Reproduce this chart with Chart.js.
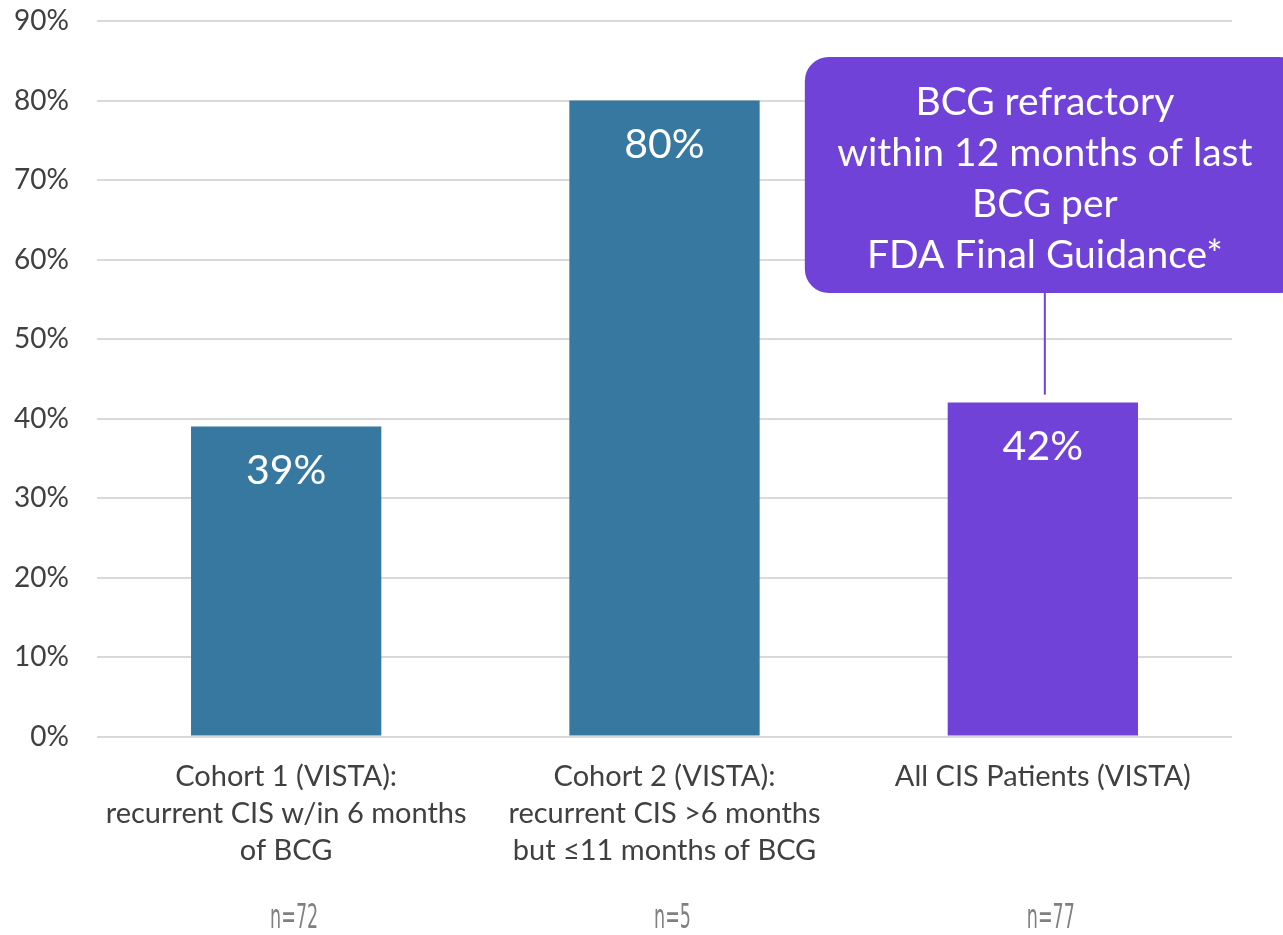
<!DOCTYPE html>
<html>
<head>
<meta charset="utf-8">
<script src="https://cdn.jsdelivr.net/npm/chart.js@4.4.1/dist/chart.umd.min.js"></script>
<style>
  html, body { margin: 0; padding: 0; background: #fff; }
  #wrap { width: 1283px; height: 935px; position: relative; }
</style>
</head>
<body>
<div id="wrap"><canvas id="chart"></canvas></div>
<script>
const categories = [
  ['Cohort 1 (VISTA):', 'recurrent CIS w/in 6 months', 'of BCG'],
  ['Cohort 2 (VISTA):', 'recurrent CIS >6 months', 'but \u226411 months of BCG'],
  ['All CIS Patients (VISTA)'],
]
const values = [39, 80, 42]
const sampleSizes = ['n=72', 'n=5', 'n=77']
const barColors = ['#3778a0', '#3778a0', '#7042d8']
const calloutLines = ['BCG refractory', 'within 12 months of last', 'BCG per', 'FDA Final Guidance*']

const FONT = 'Lato, "Open Sans", sans-serif'

const labelsPlugin = {
  id: 'barLabels',
  afterDatasetsDraw(chart) {
    const { ctx } = chart
    const meta = chart.getDatasetMeta(0)
    ctx.save()
    ctx.fillStyle = '#ffffff'
    ctx.font = `41px ${FONT}`
    ctx.textAlign = 'center'
    ctx.textBaseline = 'middle'
    meta.data.forEach((bar, i) => {
      ctx.fillText(`${values[i]}%`, bar.x, bar.y + 44)
    })

    // sample sizes under the category labels
    ctx.fillStyle = '#808080'
    ctx.font = `26px "DejaVu Sans Condensed", ${FONT}`
    meta.data.forEach((bar, i) => {
      ctx.save()
      ctx.translate(bar.x + 8, 919)
      ctx.scale(0.75, 1.3)
      ctx.fillText(sampleSizes[i], 0, 0)
      ctx.restore()
    })

    // callout over the last bar
    const last = meta.data[meta.data.length - 1]
    const boxLeft = last.x - 238
    const boxRight = chart.width
    const boxTop = 57
    const boxBottom = 293
    ctx.fillStyle = '#7042d8'
    ctx.beginPath()
    ctx.roundRect(boxLeft, boxTop, boxRight - boxLeft + 20, boxBottom - boxTop, 24)
    ctx.fill()
    ctx.strokeStyle = '#7042d8'
    ctx.lineWidth = 2
    ctx.beginPath()
    ctx.moveTo(last.x + 2, boxBottom)
    ctx.lineTo(last.x + 2, last.y - 8)
    ctx.stroke()
    ctx.fillStyle = '#ffffff'
    ctx.font = `39px ${FONT}`
    calloutLines.forEach((line, i) => {
      ctx.fillText(line, last.x + 2, 102 + i * 51)
    })
    ctx.restore()
  },
}

const chart = new Chart(document.getElementById('chart'), {
  type: 'bar',
  data: {
    labels: categories,
    datasets: [{
      data: values,
      backgroundColor: barColors,
      categoryPercentage: 1,
      barPercentage: 0.503,
    }],
  },
  options: {
    responsive: true,
    maintainAspectRatio: false,
    animation: false,
    layout: { padding: { left: 4, right: 51, top: 21, bottom: 52 } },
    plugins: {
      legend: { display: false },
      tooltip: { enabled: false },
    },
    scales: {
      x: {
        grid: { display: false },
        border: { display: false },
        ticks: {
          color: '#404040',
          font: { family: FONT, size: 29, lineHeight: 1.27 },
          padding: 14,
          maxRotation: 0,
          autoSkip: false,
        },
      },
      y: {
        min: 0,
        max: 90,
        grid: { color: '#d9d9d9', lineWidth: 2, drawTicks: false },
        border: { display: false },
        afterFit(scale) {
          scale.width = 93
          scale.paddingTop = 0
          scale.paddingBottom = 0
        },
        ticks: {
          stepSize: 10,
          color: '#404040',
          font: { family: FONT, size: 28 },
          padding: 28,
          callback: (v) => `${v}%`,
        },
      },
    },
  },
  plugins: [labelsPlugin],
})
</script>
</body>
</html>
